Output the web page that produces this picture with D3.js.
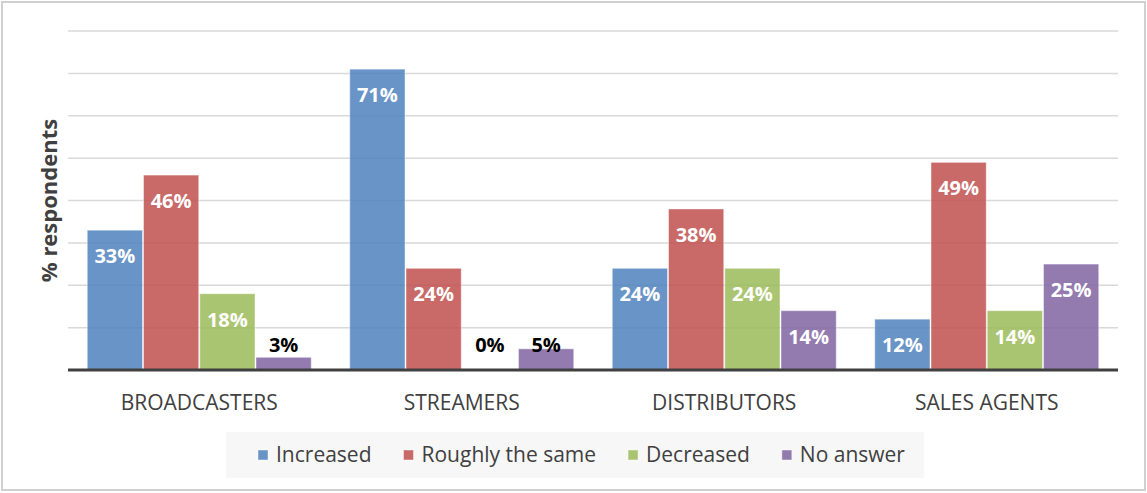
<!DOCTYPE html>
<html>
<head>
<meta charset="utf-8">
<script src="https://cdn.jsdelivr.net/npm/d3@7"></script>
<style>
  body { margin: 0; background: #fff; }
  text { font-family: "Open Sans", sans-serif; }
</style>
</head>
<body>
<div id="chart"></div>
<script>
// data
var categories = ["BROADCASTERS", "STREAMERS", "DISTRIBUTORS", "SALES AGENTS"];
var series = ["Increased", "Roughly the same", "Decreased", "No answer"];
var increased = [33, 71, 24, 12];
var roughlySame = [46, 24, 38, 49];
var decreased = [18, 0, 24, 14];
var noAnswer = [3, 5, 14, 25];
var yTicks = [0, 10, 20, 30, 40, 50, 60, 70, 80];

var values = [increased, roughlySame, decreased, noAnswer];
var colors = ["#4f81bd", "#c0504d", "#9bbb59", "#8064a2"];

var W = 1147, H = 493;
var margin = { top: 31, right: 29, bottom: 123, left: 68 },
    width = W - margin.left - margin.right,
    height = H - margin.top - margin.bottom;

var svgRoot = d3.select("#chart").append("svg")
    .attr("width", W)
    .attr("height", H);

// outer frame
svgRoot.append("rect")
    .attr("x", 2).attr("y", 2)
    .attr("width", W - 4).attr("height", H - 5)
    .attr("fill", "#fff")
    .attr("stroke", "#d0d0d0")
    .attr("stroke-width", 2);

var svg = svgRoot.append("g")
    .attr("transform", "translate(" + margin.left + "," + margin.top + ")");

// scales
var x0 = d3.scaleBand()
    .domain(categories)
    .range([0, width])
    .paddingInner(1 / 7)
    .paddingOuter(1 / 14);

var x1 = d3.scaleBand()
    .domain(series)
    .range([0, x0.bandwidth()]);

var y = d3.scaleLinear()
    .domain([0, 80])
    .range([height, 0]);

// gridlines
svg.append("g")
    .selectAll("line")
    .data(yTicks.slice(1))
    .enter()
    .append("line")
    .attr("x1", 0).attr("x2", width)
    .attr("y1", function (d) { return y(d); })
    .attr("y2", function (d) { return y(d); })
    .attr("stroke", "#d9d9d9")
    .attr("stroke-width", 1.5);

// bars
var groups = svg.append("g")
    .selectAll("g")
    .data(categories)
    .enter()
    .append("g")
    .attr("transform", function (d) { return "translate(" + x0(d) + ",0)"; });

var cells = groups.selectAll("g")
    .data(function (c, ci) {
        return series.map(function (s, si) { return { s: s, si: si, v: values[si][ci] }; });
    })
    .enter()
    .append("g");

cells.filter(function (d) { return d.v > 0; })
    .append("rect")
    .attr("x", function (d) { return x1(d.s) + 0.5; })
    .attr("width", x1.bandwidth() - 1)
    .attr("y", function (d) { return y(d.v); })
    .attr("height", function (d) { return y(0) - y(d.v); })
    .attr("fill", function (d) { return colors[d.si]; })
    .attr("fill-opacity", 0.85)
    .attr("stroke", "#fff")
    .attr("stroke-opacity", 0.45)
    .attr("stroke-width", 1);

// data labels
cells.append("text")
    .attr("x", function (d) { return x1(d.s) + x1.bandwidth() / 2; })
    .attr("y", function (d) { return Math.min(y(d.v) + 26, y(0) - 25); })
    .attr("dy", "0.35em")
    .attr("text-anchor", "middle")
    .style("font-size", "20px")
    .style("font-weight", "bold")
    .style("fill", function (d) { return d.v < 8 ? "#000" : "#fff"; })
    .text(function (d) { return d.v + "%"; });

// baseline
svg.append("line")
    .attr("x1", 0).attr("x2", width)
    .attr("y1", y(0)).attr("y2", y(0))
    .attr("stroke", "#404040")
    .attr("stroke-width", 3);

// category labels
svg.append("g")
    .selectAll("text")
    .data(categories)
    .enter()
    .append("text")
    .attr("x", function (d) { return x0(d) + x0.bandwidth() / 2; })
    .attr("y", height + 33)
    .attr("dy", "0.35em")
    .attr("text-anchor", "middle")
    .style("font-size", "21px")
    .style("fill", "#404040")
    .text(function (d) { return d; });

// y axis title
svg.append("text")
    .attr("transform", "rotate(-90)")
    .attr("x", -height / 2)
    .attr("y", -19)
    .attr("dy", "0.35em")
    .attr("text-anchor", "middle")
    .style("font-size", "22px")
    .style("font-weight", "bold")
    .style("fill", "#404040")
    .text("% respondents");

// legend
var legend = svgRoot.append("g");
legend.append("rect")
    .attr("x", 226).attr("y", 432)
    .attr("width", 698).attr("height", 46)
    .attr("fill", "#f7f7f7");

var lx = 258;
series.forEach(function (s, i) {
    var item = legend.append("g").attr("transform", "translate(" + lx + ",455)");
    item.append("rect")
        .attr("x", 0).attr("y", -5)
        .attr("width", 10).attr("height", 10)
        .attr("fill", colors[i])
        .attr("fill-opacity", 0.85)
        .attr("stroke", "#fff")
        .attr("stroke-opacity", 0.45);
    var t = item.append("text")
        .attr("x", 18)
        .attr("dy", "0.35em")
        .style("font-size", "21px")
        .style("fill", "#404040")
        .text(s);
    lx += 18 + t.node().getComputedTextLength() + 32;
});
</script>
</body>
</html>
